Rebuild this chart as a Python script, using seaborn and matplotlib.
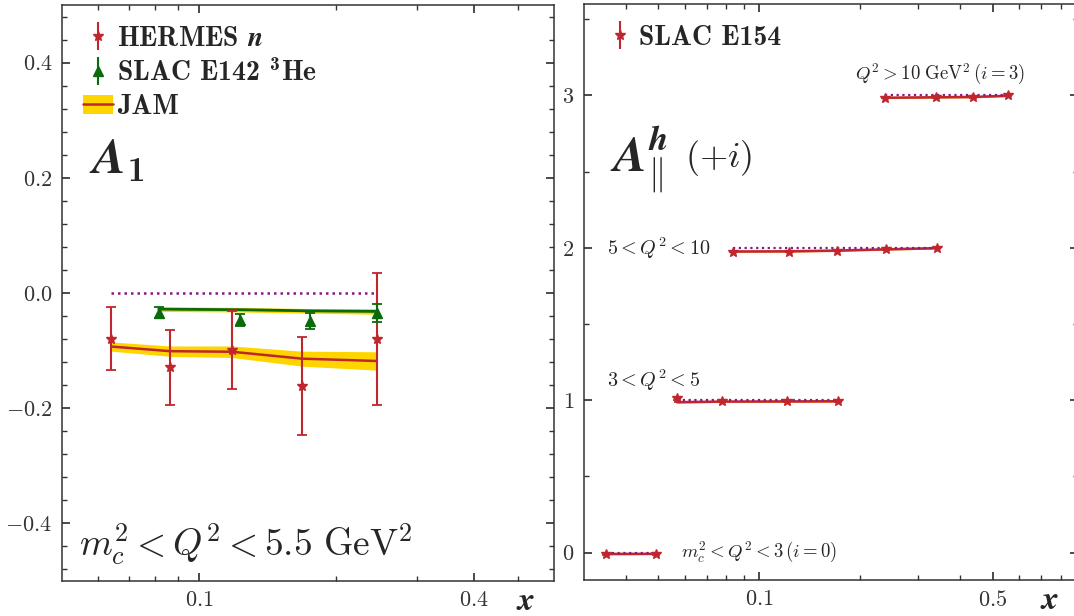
import numpy as np
import pandas as pd
import matplotlib
matplotlib.use("Agg")
import matplotlib.pyplot as plt
import matplotlib.ticker as mticker
from matplotlib.legend_handler import HandlerTuple
from matplotlib.patches import Patch
from matplotlib.lines import Line2D
import seaborn as sns

# ---------------- A1 of the neutron / 3He ----------------
hermes_x = [0.0642, 0.0863, 0.118, 0.168, 0.245]
hermes_a1 = [-0.079, -0.129, -0.099, -0.161, -0.080]
hermes_err = [0.055, 0.065, 0.068, 0.085, 0.114]
jam_hermes = [-0.093, -0.101, -0.102, -0.114, -0.118]
jam_hermes_unc = [0.008, 0.009, 0.010, 0.013, 0.016]

e142_x = [0.0815, 0.123, 0.1746, 0.246]
e142_a1 = [-0.034, -0.047, -0.049, -0.035]
e142_err = [0.009, 0.010, 0.014, 0.016]
jam_e142 = [-0.028, -0.029, -0.031, -0.032]
jam_e142_unc = [0.004, 0.004, 0.004, 0.005]

# ---------------- SLAC E154 A_parallel in Q^2 bins ----------------
e154_x0 = [0.0349, 0.0493]
e154_a0 = [-0.009, -0.009]
e154_e0 = [0.004, 0.004]
jam_a0 = [-0.009, -0.008]

e154_x1 = [0.0568, 0.0777, 0.1213, 0.1724]
e154_a1 = [0.012, -0.008, -0.008, -0.008]
e154_e1 = [0.011, 0.004, 0.003, 0.003]
jam_a1 = [-0.013, -0.009, -0.008, -0.007]

e154_x2 = [0.0836, 0.1227, 0.1712, 0.2396, 0.340]
e154_a2 = [-0.025, -0.025, -0.019, -0.010, 0.0]
e154_e2 = [0.003, 0.003, 0.003, 0.003, 0.003]
jam_a2 = [-0.024, -0.023, -0.018, -0.010, -0.002]

e154_x3 = [0.239, 0.338, 0.436, 0.556]
e154_a3 = [-0.016, -0.013, -0.011, 0.0]
e154_e3 = [0.003, 0.003, 0.003, 0.003]
jam_a3 = [-0.015, -0.012, -0.010, -0.002]

bin_labels = [r"$m_c^2 < Q^2 < 3\,(i=0)$", r"$3 < Q^2 < 5$",
              r"$5 < Q^2 < 10$", r"$Q^2 > 10\ \mathrm{GeV}^2\,(i=3)$"]

RED = "#c0262d"
GREEN = "#0a6b0a"
GOLD = "#ffd500"
ORANGE = "#f08a1c"
PURPLE = "#8b158b"

sns.set_theme(style="ticks")
plt.rcParams.update({
    "font.family": "serif",
    "font.serif": ["cmr10", "DejaVu Serif"],
    "mathtext.fontset": "cm",
    "mathtext.rm": "cmr10",
    "mathtext.it": "cmmi10",
    "mathtext.bf": "cmb10",
    "mathtext.bfit": "STIXGeneral:italic:bold",
    "mathtext.cal": "cmsy10",
    "axes.unicode_minus": False,
    "axes.edgecolor": "#333333",
    "axes.linewidth": 1.1,
    "xtick.direction": "in",
    "ytick.direction": "in",
    "xtick.top": True,
    "ytick.right": True,
    "xtick.major.size": 6,
    "ytick.major.size": 6,
    "xtick.minor.size": 3.5,
    "ytick.minor.size": 3.5,
    "xtick.color": "#333333",
    "ytick.color": "#333333",
})

fig = plt.figure(figsize=(10.74, 6.16), dpi=100)
W, H = 1074.0, 616.0
axL = fig.add_axes([62 / W, (H - 581) / H, (554 - 62) / W, 576 / H])
axR = fig.add_axes([584 / W, (H - 580) / H, (1078 - 584) / W, 576 / H])


def fmt_left(v, p):
    return f"${v:.1f}$"


def fmt_right(v, p):
    return f"${v:.0f}$"


def fmt_x(v, p):
    return f"${v:g}$"


def bold_legend(leg):
    for t in leg.get_texts():
        t.set_fontfamily("cmb10")
        t.set_math_fontfamily("custom")


legend_kw = dict(loc="upper left", bbox_to_anchor=(0.0, 1.0), frameon=False,
                 fontsize=20, handlelength=1.1, handletextpad=0.12,
                 labelspacing=0.26, borderaxespad=0.35)

# ---------------- left panel ----------------
ax = axL
ax.set_xscale("log")
ax.fill_between(hermes_x, np.array(jam_hermes) - jam_hermes_unc,
                np.array(jam_hermes) + jam_hermes_unc, color=GOLD, lw=0, zorder=1)
ax.fill_between(e142_x, np.array(jam_e142) - jam_e142_unc,
                np.array(jam_e142) + jam_e142_unc, color=GOLD, lw=0, zorder=1)
sns.lineplot(x=hermes_x, y=jam_hermes, ax=ax, color=RED, lw=1.8, estimator=None, sort=False, zorder=2)
sns.lineplot(x=e142_x, y=jam_e142, ax=ax, color=GREEN, lw=2.0, estimator=None, sort=False, zorder=2)
sns.lineplot(x=[hermes_x[0], hermes_x[-1]], y=[0, 0], ax=ax, color=PURPLE, lw=1.8,
             linestyle=(0, (1, 1.6)), estimator=None, zorder=2)
ax.errorbar(hermes_x, hermes_a1, yerr=hermes_err, fmt="*", color=RED, ms=7.5,
            elinewidth=1.5, capsize=3.5, capthick=1.3, zorder=3)
ax.errorbar(e142_x, e142_a1, yerr=e142_err, fmt="^", color=GREEN, ms=7.5,
            elinewidth=1.5, capsize=3.5, capthick=1.3, zorder=3)

ax.set_xlim(0.05, 0.6)
ax.set_ylim(-0.5, 0.5)
ax.xaxis.set_major_locator(mticker.FixedLocator([0.1, 0.4]))
ax.xaxis.set_minor_locator(mticker.FixedLocator([0.06, 0.07, 0.08, 0.09, 0.2, 0.3, 0.5]))
ax.xaxis.set_major_formatter(mticker.FuncFormatter(fmt_x))
ax.xaxis.set_minor_formatter(mticker.NullFormatter())
ax.yaxis.set_major_locator(mticker.MultipleLocator(0.2))
ax.yaxis.set_minor_locator(mticker.MultipleLocator(0.04))
ax.yaxis.set_major_formatter(mticker.FuncFormatter(fmt_left))
ax.tick_params(which="both", labelsize=16, pad=7)
ax.tick_params(which="both", top=True, right=True)

e_hermes = ax.errorbar([], [], yerr=[], fmt="*", color=RED, ms=7.5, elinewidth=1.5, capsize=4)
e_e142 = ax.errorbar([], [], yerr=[], fmt="^", color=GREEN, ms=7.5, elinewidth=1.5, capsize=4)
h_jam = (Patch(facecolor=GOLD, edgecolor="none"), Line2D([], [], color=RED, lw=1.8))
legL = ax.legend([e_hermes, e_e142, h_jam],
                 [r"HERMES $\mathbfit{n}$",
                  r"SLAC E142 $^\mathbf{3}$He",
                  "JAM"],
                 handler_map={tuple: HandlerTuple(ndivide=1, pad=0)}, **legend_kw)
bold_legend(legL)

ax.text(0.055, 0.73, r"$\mathbfit{A}_{\mathbf{1}}$", transform=ax.transAxes,
        fontsize=36, va="center", ha="left", math_fontfamily="custom")
ax.text(0.035, 0.062, r"$m_c^2 < Q^2 < 5.5\ \mathrm{GeV}^2$", transform=ax.transAxes,
        fontsize=27, va="center", ha="left")
ax.text(0.943, -0.035, r"$\mathbfit{x}$", transform=ax.transAxes,
        fontsize=24, va="center", ha="center", math_fontfamily="custom")

# ---------------- right panel ----------------
ax = axR
ax.set_xscale("log")
groups = [(e154_x0, e154_a0, e154_e0, jam_a0),
          (e154_x1, e154_a1, e154_e1, jam_a1),
          (e154_x2, e154_a2, e154_e2, jam_a2),
          (e154_x3, e154_a3, e154_e3, jam_a3)]
for i, (gx, ga, ge, gj) in enumerate(groups):
    gj_off = np.array(gj) + i
    ax.fill_between(gx, gj_off - 0.006, gj_off + 0.006, color=ORANGE, lw=0, zorder=1)
    sns.lineplot(x=gx, y=gj_off, ax=ax, color=RED, lw=1.8, estimator=None, sort=False, zorder=2)
    sns.lineplot(x=[gx[0], gx[-1]], y=[i, i], ax=ax, color=PURPLE, lw=1.6,
                 linestyle=(0, (1, 1.6)), estimator=None, zorder=2)
    ax.errorbar(gx, np.array(ga) + i, yerr=ge, fmt="*", color=RED, ms=7,
                elinewidth=1.4, capsize=3, capthick=1.2, zorder=3)

ax.set_xlim(0.03, 0.9)
ax.set_ylim(-0.18, 3.6)
ax.xaxis.set_major_locator(mticker.FixedLocator([0.1, 0.5]))
ax.xaxis.set_minor_locator(mticker.FixedLocator([0.04, 0.05, 0.06, 0.07, 0.08, 0.09,
                                                 0.2, 0.3, 0.4, 0.6, 0.7, 0.8]))
ax.xaxis.set_major_formatter(mticker.FuncFormatter(fmt_x))
ax.xaxis.set_minor_formatter(mticker.NullFormatter())
ax.yaxis.set_major_locator(mticker.MultipleLocator(1))
ax.yaxis.set_minor_locator(mticker.MultipleLocator(0.5))
ax.yaxis.set_major_formatter(mticker.FuncFormatter(fmt_right))
ax.tick_params(which="both", labelsize=16, pad=7)
ax.tick_params(which="both", top=True, right=True)

e_e154 = ax.errorbar([], [], yerr=[], fmt="*", color=RED, ms=7.5, elinewidth=1.5, capsize=4)
legR = ax.legend([e_e154], ["SLAC E154"], **legend_kw)
bold_legend(legR)

ax.text(0.053, 0.73, r"$\mathbfit{A}_{\mathbf{\Vert}}^{\mathbfit{h}}$", transform=ax.transAxes,
        fontsize=36, va="center", ha="left", math_fontfamily="custom")
ax.text(0.204, 0.733, r"$(+i)$", transform=ax.transAxes,
        fontsize=26, va="center", ha="left")
ax.text(0.1935, 3.14, bin_labels[3], fontsize=13.5, va="center", ha="left")
ax.text(0.0352, 2.0, bin_labels[2], fontsize=14.5, va="center", ha="left")
ax.text(0.0352, 1.13, bin_labels[1], fontsize=14.5, va="center", ha="left")
ax.text(0.0587, 0.0, bin_labels[0], fontsize=13.5, va="center", ha="left")
ax.text(0.943, -0.035, r"$\mathbfit{x}$", transform=ax.transAxes,
        fontsize=24, va="center", ha="center", math_fontfamily="custom")

fig.savefig("out.png", dpi=100)
